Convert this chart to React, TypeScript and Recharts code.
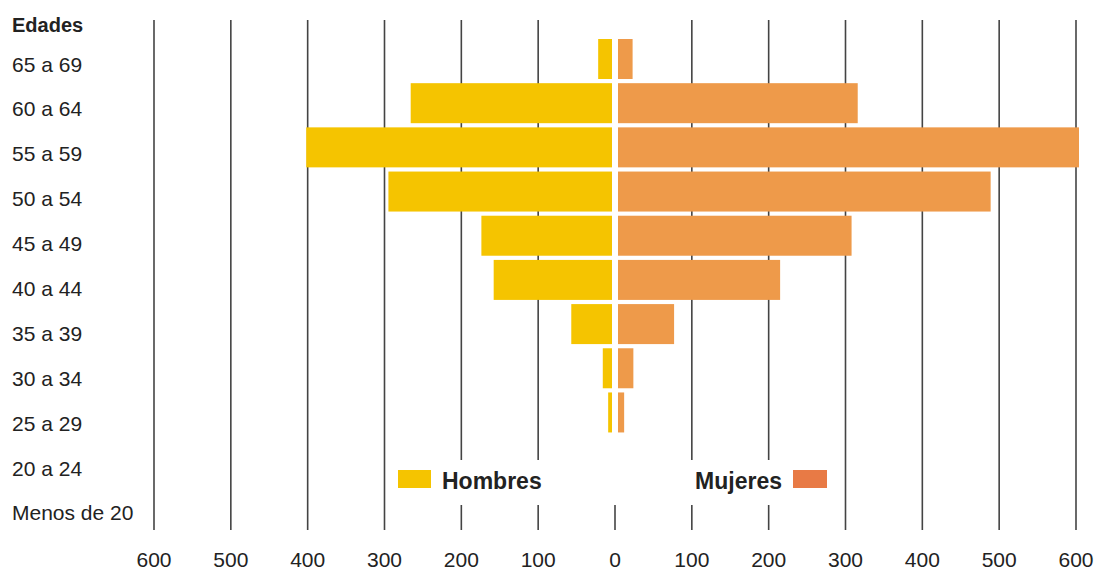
import { BarChart, Bar, XAxis, YAxis, CartesianGrid, Legend, Customized } from "recharts";

// age groups, top to bottom
const AGES = [
  "65 a 69", "60 a 64", "55 a 59", "50 a 54", "45 a 49", "40 a 44",
  "35 a 39", "30 a 34", "25 a 29", "20 a 24", "Menos de 20",
];
const HOMBRES = [18, 262, 398, 291, 170, 154, 53, 12, 5, 0, 0];
const MUJERES = [19, 312, 600, 485, 304, 211, 73, 20, 8, 0, 0];
const X_TICKS = [-600, -500, -400, -300, -200, -100, 0, 100, 200, 300, 400, 500, 600];
const SERIES = ["Hombres", "Mujeres"];

const YELLOW = "#F5C400";
const ORANGE = "#EE9A4A";
const LEGEND_COLORS = [YELLOW, "#E87A45"];
const TEXT = "#222";
const FONT = '"Liberation Sans", Arial, sans-serif';
const GAP = 3; // half of the white gap at the centre

const data = AGES.map((age, i) => ({ age, hombres: -HOMBRES[i], mujeres: MUJERES[i] }));

// bars are pushed a few px away from zero so the two sides don't touch
const shiftedBar = (side: number) => (props: any) => {
  const { x, y, width, height, fill } = props;
  const left = Math.min(x, x + width);
  const w = Math.abs(width);
  if (!w) return <g />;
  return <rect x={left + side * GAP} y={y} width={w} height={height} fill={fill} />;
};

const AgeTick = ({ y, payload, index }: any) => (
  <text x={12} y={y + 5 + index * 0.7} dominantBaseline="central" fontSize={21} fill={TEXT} fontFamily={FONT}>
    {payload.value}
  </text>
);

const zeroIdx = X_TICKS.indexOf(0);
const GridLine = (props: any) => {
  const { x1, y1, x2, y2, index } = props;
  // zero line only shows below the legend
  const top = index === zeroIdx ? y2 - 25 : y1;
  return <line key={props.key} x1={x1} y1={top} x2={x2} y2={y2} stroke="#444" strokeWidth={1.6} />;
};

const LegendBox = () => (
  <div style={{ position: "relative", width: 445, height: 45, background: "#fff", fontFamily: FONT, fontWeight: 700, fontSize: 23, color: TEXT }}>
    <span style={{ position: "absolute", left: 8, top: 10, width: 33, height: 18, background: LEGEND_COLORS[0] }} />
    <span style={{ position: "absolute", left: 52, top: 8, lineHeight: "26px" }}>{SERIES[0]}</span>
    <span style={{ position: "absolute", right: 53, top: 8, lineHeight: "26px" }}>{SERIES[1]}</span>
    <span style={{ position: "absolute", left: 403, top: 10, width: 34, height: 18, background: LEGEND_COLORS[1] }} />
  </div>
);

export default function App() {
  return (
    <div style={{ fontFamily: FONT }}>
      <style>{"body{margin:0}"}</style>
      <BarChart
        width={1100}
        height={570}
        data={data}
        layout="vertical"
        stackOffset="sign"
        barCategoryGap={2}
        margin={{ top: 20, right: 24, bottom: 10, left: 14 }}
      >
        <CartesianGrid horizontal={false} vertical={GridLine} />
        <XAxis
          type="number"
          domain={[-600, 600]}
          ticks={X_TICKS}
          interval={0}
          tickFormatter={(v) => String(Math.abs(v))}
          axisLine={false}
          tickLine={false}
          tickMargin={16}
          height={30}
          tick={{ fontSize: 21, fill: TEXT, fontFamily: FONT }}
        />
        <YAxis
          type="category"
          dataKey="age"
          width={140}
          axisLine={false}
          tickLine={false}
          interval={0}
          padding={{ top: 17, bottom: 7 }}
          tick={AgeTick}
        />
        <Bar dataKey="hombres" name={SERIES[0]} stackId="p" fill={YELLOW} shape={shiftedBar(-1)} isAnimationActive={false} />
        <Bar dataKey="mujeres" name={SERIES[1]} stackId="p" fill={ORANGE} shape={shiftedBar(1)} isAnimationActive={false} />
        <Legend
          layout="horizontal"
          verticalAlign="middle"
          align="center"
          content={LegendBox}
          wrapperStyle={{ left: 390, top: 460, width: 445, height: 45 }}
        />
        <Customized
          component={() => (
            <text x={12} y={25} dominantBaseline="central" fontSize={20} fontWeight={700} fill={TEXT} fontFamily={FONT}>
              Edades
            </text>
          )}
        />
      </BarChart>
    </div>
  );
}
